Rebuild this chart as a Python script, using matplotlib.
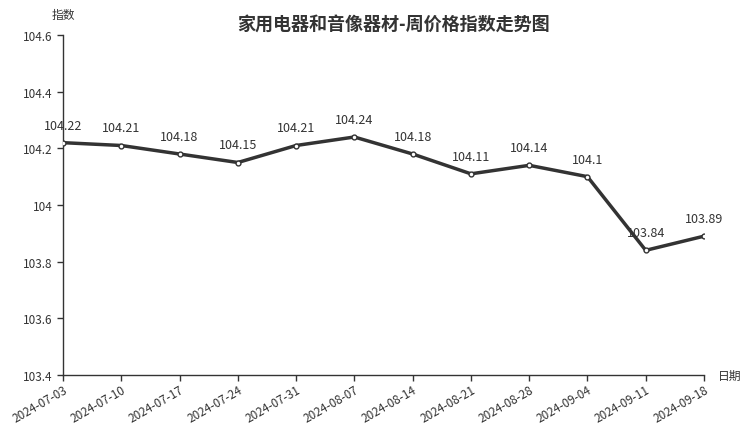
import matplotlib
matplotlib.use("Agg")
import matplotlib.pyplot as plt

plt.rcParams['font.family'] = ['Noto Sans CJK SC', 'DejaVu Sans']

dates = ["2024-07-03", "2024-07-10", "2024-07-17", "2024-07-24", "2024-07-31", "2024-08-07",
         "2024-08-14", "2024-08-21", "2024-08-28", "2024-09-04", "2024-09-11", "2024-09-18"]
values = [104.22, 104.21, 104.18, 104.15, 104.21, 104.24,
          104.18, 104.11, 104.14, 104.1, 103.84, 103.89]
value_labels = ["104.22", "104.21", "104.18", "104.15", "104.21", "104.24",
                "104.18", "104.11", "104.14", "104.1", "103.84", "103.89"]
yticks = [103.4, 103.6, 103.8, 104, 104.2, 104.4, 104.6]
ytick_labels = ["103.4", "103.6", "103.8", "104", "104.2", "104.4", "104.6"]

txt = "#333333"
fig = plt.figure(figsize=(7.52, 4.27), dpi=100)
ax = fig.add_axes([63 / 752, 1 - 376 / 427, 641 / 752, 340 / 427])

x = list(range(len(dates)))
ax.plot(x, values, color="#333333", linewidth=2.5, marker="o", markersize=3.5,
        markerfacecolor="white", markeredgecolor="#333333", markeredgewidth=1, zorder=3)
for xi, v, lab in zip(x, values, value_labels):
    ax.annotate(lab, (xi, v), xytext=(0, 8), textcoords="offset points",
                ha="center", va="bottom", fontsize=9, color=txt)

ax.set_xlim(0, len(dates) - 1)
ax.set_ylim(103.4, 104.6)
ax.set_yticks(yticks)
ax.set_yticklabels(ytick_labels)
ax.set_xticks(x)
ax.set_xticklabels(dates, rotation=30, ha="right", rotation_mode="anchor")
ax.tick_params(axis="both", labelsize=8.5, colors=txt, length=4, width=1)
ax.tick_params(axis="x", pad=2)

for s in ["top", "right"]:
    ax.spines[s].set_visible(False)
for s in ["left", "bottom"]:
    ax.spines[s].set_color("#333333")
    ax.spines[s].set_linewidth(1)

fig.text(63 / 752, 1 - 15 / 427, "指数", ha="center", va="center", fontsize=8.5, color=txt)
fig.text(730 / 752, 1 - 376 / 427, "日期", ha="center", va="center", fontsize=8.5, color=txt)
fig.text(393 / 752, 1 - 24 / 427, "家用电器和音像器材-周价格指数走势图", ha="center", va="center",
         fontsize=13, fontweight="bold", color=txt)

fig.savefig("out.png", dpi=100)
